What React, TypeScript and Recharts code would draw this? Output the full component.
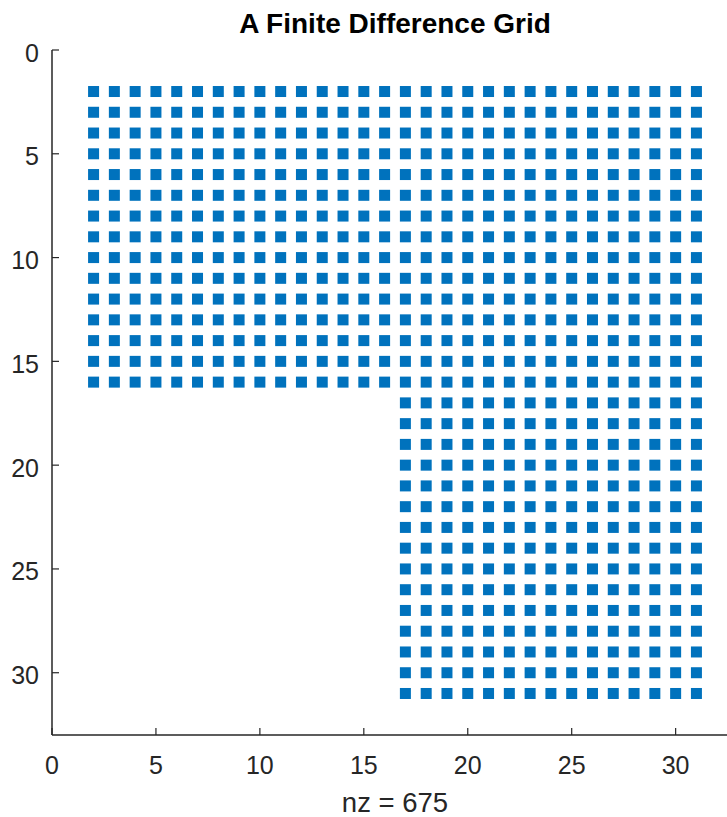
import { ScatterChart, Scatter, XAxis, YAxis } from "recharts"

// grid rows / columns that hold a node (spy of an L-shaped numgrid)
const upperRows = [2, 3, 4, 5, 6, 7, 8, 9, 10, 11, 12, 13, 14, 15, 16]
const upperCols = [2, 3, 4, 5, 6, 7, 8, 9, 10, 11, 12, 13, 14, 15, 16, 17, 18, 19, 20, 21, 22, 23, 24, 25, 26, 27, 28, 29, 30, 31]
const lowerRows = [17, 18, 19, 20, 21, 22, 23, 24, 25, 26, 27, 28, 29, 30, 31]
const lowerCols = [17, 18, 19, 20, 21, 22, 23, 24, 25, 26, 27, 28, 29, 30, 31]

const xTicks = [0, 5, 10, 15, 20, 25, 30]
const yTicks = [0, 5, 10, 15, 20, 25, 30]

const title = "A Finite Difference Grid"
const xLabel = "nz = 675"

const nodes = [
  ...upperRows.flatMap((r) => upperCols.map((c) => ({ col: c, row: r }))),
  ...lowerRows.flatMap((r) => lowerCols.map((c) => ({ col: c, row: r }))),
]

const ink = "#262626"
const blue = "#0072BD"
const font = '"Liberation Sans", Arial, Helvetica, sans-serif'

const BottomTick = (props: any) => {
  const { x, y, payload } = props
  return (
    <g>
      <line x1={x} x2={x} y1={y} y2={y - 7} stroke={ink} strokeWidth={1.2} />
      <text x={x} y={y + 39} textAnchor="middle" fill={ink} fontSize={25} fontFamily={font}>
        {payload.value}
      </text>
    </g>
  )
}

const TopTick = (props: any) => {
  const { x, y } = props
  return <line x1={x} x2={x} y1={y} y2={y + 7} stroke={ink} strokeWidth={1.2} />
}

const LeftTick = (props: any) => {
  const { x, y, payload } = props
  return (
    <g>
      <line x1={x} x2={x + 7} y1={y} y2={y} stroke={ink} strokeWidth={1.2} />
      <text x={x - 13} y={y + 11.5} textAnchor="end" fill={ink} fontSize={25} fontFamily={font}>
        {payload.value}
      </text>
    </g>
  )
}

const Square = (props: any) => {
  const { cx, cy } = props
  return <rect x={cx - 5.5} y={cy - 5.5} width={11} height={11} fill={blue} />
}

export default function App() {
  return (
    <div
      style={{
        position: "absolute",
        left: 0,
        top: 0,
        width: 727,
        height: 817,
        overflow: "hidden",
        background: "#fff",
        fontFamily: font,
      }}
    >
      <div
        style={{
          position: "absolute",
          left: 195,
          width: 400,
          top: 10,
          textAlign: "center",
          fontSize: 28,
          lineHeight: "28px",
          fontWeight: "bold",
          color: "#000",
        }}
      >
        {title}
      </div>
      <ScatterChart width={760} height={817} margin={{ top: 50, right: 22, bottom: 0, left: 0 }}>
        <XAxis
          dataKey="col"
          type="number"
          domain={[0, 33]}
          ticks={xTicks}
          interval={0}
          allowDataOverflow
          height={82}
          tickSize={0}
          tickMargin={0}
          tickLine={false}
          axisLine={{ stroke: ink, strokeWidth: 1.5 }}
          tick={<BottomTick />}
        />
        <XAxis
          xAxisId="top"
          orientation="top"
          type="number"
          domain={[0, 33]}
          ticks={xTicks}
          interval={0}
          allowDataOverflow
          height={0}
          tickSize={0}
          tickMargin={0}
          tickLine={false}
          axisLine={{ stroke: ink, strokeWidth: 1.5 }}
          tick={<TopTick />}
        />
        <YAxis
          dataKey="row"
          type="number"
          reversed
          domain={[0, 33]}
          ticks={yTicks}
          interval={0}
          allowDataOverflow
          width={52}
          tickSize={0}
          tickMargin={0}
          tickLine={false}
          axisLine={{ stroke: ink, strokeWidth: 1.5 }}
          tick={<LeftTick />}
        />
        <Scatter data={nodes} shape={<Square />} isAnimationActive={false} />
      </ScatterChart>
      <div
        style={{
          position: "absolute",
          left: 245,
          width: 300,
          top: 789,
          textAlign: "center",
          fontSize: 27.5,
          lineHeight: "28px",
          color: ink,
        }}
      >
        {xLabel}
      </div>
    </div>
  )
}
